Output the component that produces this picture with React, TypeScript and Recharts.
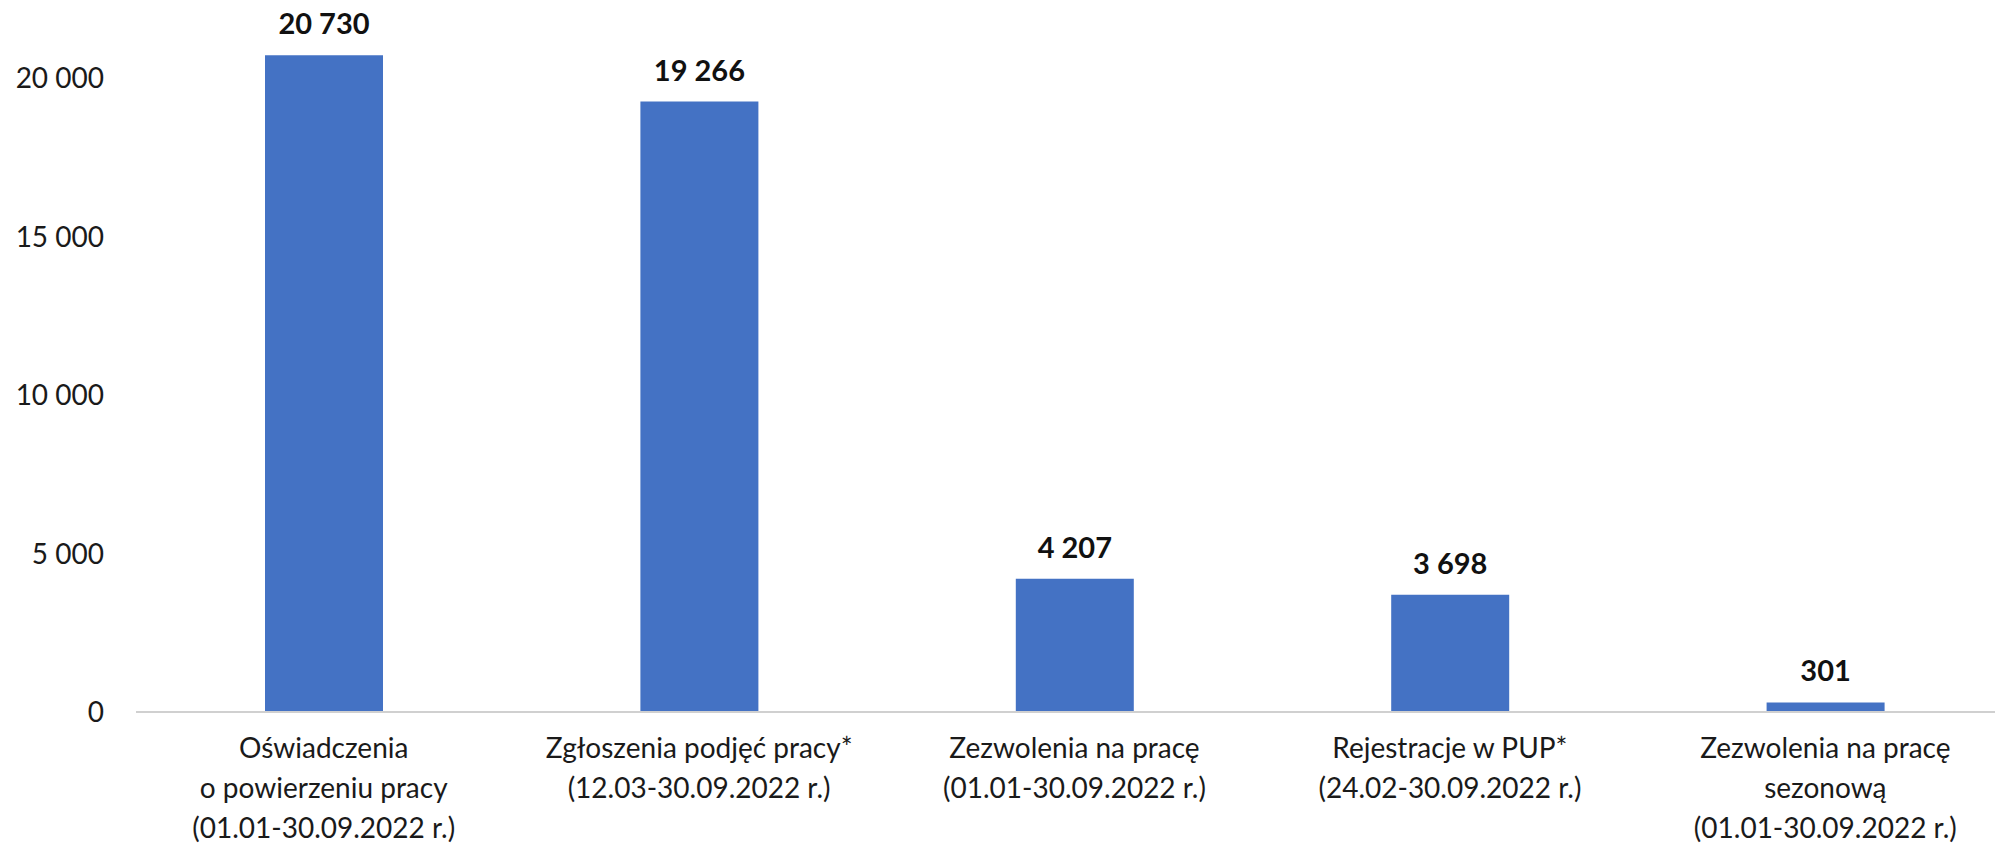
import React from "react";
import { BarChart, Bar, XAxis, YAxis, LabelList } from "recharts";

// categories (line breaks split the axis label into rows)
const categories = [
  "Oświadczenia\no powierzeniu pracy\n(01.01-30.09.2022 r.)",
  "Zgłoszenia podjęć pracy*\n(12.03-30.09.2022 r.)",
  "Zezwolenia na pracę\n(01.01-30.09.2022 r.)",
  "Rejestracje w PUP*\n(24.02-30.09.2022 r.)",
  "Zezwolenia na pracę\nsezonową\n(01.01-30.09.2022 r.)",
];
const values = [20730, 19266, 4207, 3698, 301];
const yTicks = [0, 5000, 10000, 15000, 20000];

const data = categories.map((name, i) => ({ name, value: values[i] }));

const FONT = "Lato, 'Open Sans', sans-serif";
const fmtSpace = (v: number) =>
  String(v).replace(/\B(?=(\d{3})+(?!\d))/g, " ");

const CategoryTick = ({ x, y, payload }: any) => {
  const lines = String(payload.value).split("\n");
  return (
    <text x={x} y={y} textAnchor="middle" fill="#1a1a1a" fontSize={28} fontFamily={FONT}>
      {lines.map((ln, i) => (
        <tspan key={i} x={x} dy={i === 0 ? 38 : 40}>
          {ln}
        </tspan>
      ))}
    </text>
  );
};

export default function App() {
  return (
    <div style={{ position: "absolute", left: 0, top: 0, width: 1995, height: 850, overflow: "hidden", background: "#fff" }}>
      <BarChart
        width={2020}
        height={850}
        data={data}
        margin={{ top: 15, right: 7, left: 0, bottom: 8 }}
      >
        <XAxis
          dataKey="name"
          interval={0}
          axisLine={{ stroke: "#d0d0d0", strokeWidth: 2 }}
          tickLine={false}
          height={130}
          tick={<CategoryTick />}
        />
        <YAxis
          width={136}
          domain={[0, 22000]}
          ticks={yTicks}
          allowDataOverflow
          axisLine={false}
          tickLine={false}
          tickSize={0}
          tickMargin={32}
          tick={{ fill: "#1a1a1a", fontSize: 28, fontFamily: FONT }}
          tickFormatter={(v: number) => fmtSpace(v)}
        />
        <Bar dataKey="value" fill="#4472c4" barSize={118} isAnimationActive={false}>
          <LabelList
            dataKey="value"
            position="top"
            offset={21}
            fill="#111"
            fontSize={29}
            fontWeight={700}
            fontFamily={FONT}
            formatter={(v: any) => fmtSpace(Number(v))}
          />
        </Bar>
      </BarChart>
    </div>
  );
}
